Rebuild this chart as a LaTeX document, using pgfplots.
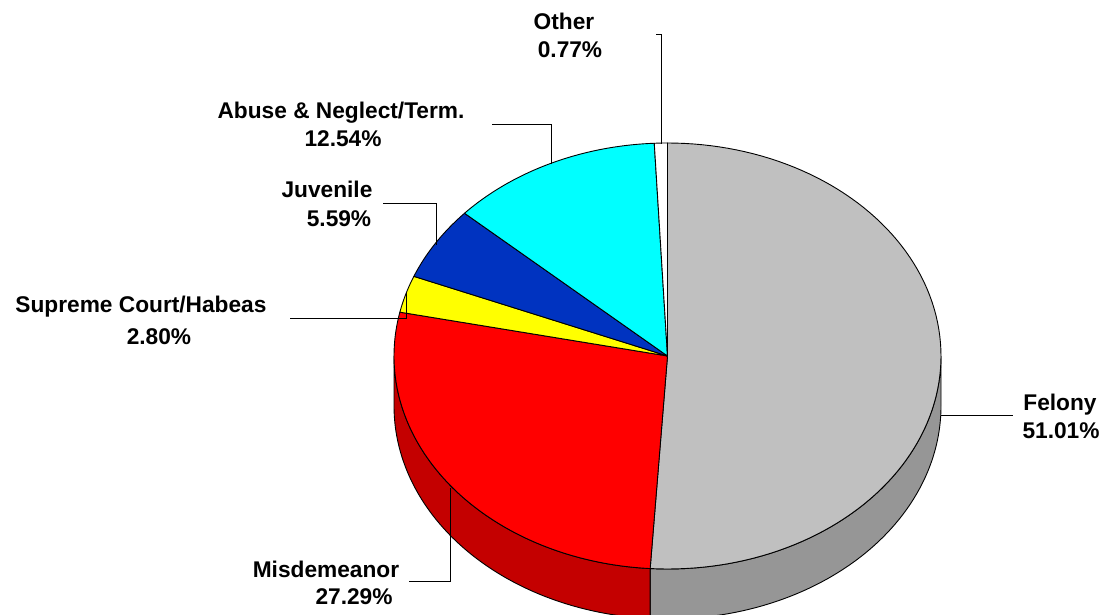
\documentclass[border=0pt]{standalone}
\usepackage{pgfplots}
\pgfplotsset{compat=1.18}
\usepackage{fontspec}
\setmainfont{Liberation Sans}
\definecolor{cGray}{HTML}{C0C0C0}
\definecolor{cGrayS}{HTML}{969696}
\definecolor{cRed}{HTML}{FF0000}
\definecolor{cRedS}{HTML}{C40000}
\definecolor{cYel}{HTML}{FFFF00}
\definecolor{cBlue}{HTML}{0033C0}
\definecolor{cCyan}{HTML}{00FFFF}
% slice(from %, to %, colour): Felony 51.01, Misdemeanor 27.29, Supreme Court 2.80,
% Juvenile 5.59, Abuse 12.54, Other 0.77
\newcommand{\slice}[3]{%
  \addplot[fill=#3,draw=black,line width=0.9pt,line join=round,variable=\t,
    samples at={-1,0,1,...,101}]
    ({(\t<0||\t>100)?667.5:667.5+273.5*sin(3.6*(#1+(#2-#1)*\t/100))},
     {(\t<0||\t>100)?356:356-213*cos(3.6*(#1+(#2-#1)*\t/100))});
}
% band(from deg, to deg, colour)
\newcommand{\band}[3]{%
  \addplot[fill=#3,draw=black,line width=0.9pt,line join=round,variable=\t,
    samples at={0,1,...,202}]
    ({667.5+273.5*sin(\t<=100?#1+(#2-#1)*\t/100:(\t<=201?#2-(#2-#1)*(\t-101)/100:#1))},
     {356+(\t>100&&\t<=201?50:0)-213*cos(\t<=100?#1+(#2-#1)*\t/100:(\t<=201?#2-(#2-#1)*(\t-101)/100:#1))});
}
\begin{document}
\begin{tikzpicture}[x=1pt,y=1pt]
\useasboundingbox (0,0) rectangle (1104,615);
\begin{axis}[at={(0,0)},anchor=south west,scale only axis,width=1104pt,height=615pt,
  xmin=0,xmax=1104,ymin=0,ymax=615,y dir=reverse,hide axis,clip=true]
\band{90}{183.636}{cGrayS}
\band{183.636}{270}{cRedS}
\slice{0}{51.01}{cGray}
\slice{51.01}{78.30}{cRed}
\slice{78.30}{81.10}{cYel}
\slice{81.10}{86.69}{cBlue}
\slice{86.69}{99.23}{cCyan}
\slice{99.23}{100}{white}
\addplot[black,line width=0.9pt] coordinates {(941,415) (1013,415)};
\addplot[black,line width=0.9pt] coordinates {(383,203) (436,203) (436,245)};
\addplot[black,line width=0.9pt] coordinates {(492,124) (551,124) (551,164)};
\addplot[black,line width=0.9pt] coordinates {(656,34) (661,34) (661,144)};
\addplot[black,line width=0.9pt] coordinates {(409,581) (450,581) (450,488)};
\addplot[black,line width=0.9pt] coordinates {(290,318) (406,318) (406,293)};
\begin{scope}[every node/.style={font=\fontsize{22.7}{26}\selectfont\bfseries,anchor=base,inner sep=0pt}]
\node at (axis cs:564,30) {Other};
\node at (axis cs:570,58) {0.77\%};
\node at (axis cs:341,119) {Abuse \& Neglect/Term.};
\node at (axis cs:343,147) {12.54\%};
\node at (axis cs:327,198) {Juvenile};
\node at (axis cs:339,226) {5.59\%};
\node at (axis cs:141,312) {Supreme Court/Habeas};
\node at (axis cs:159,344) {2.80\%};
\node at (axis cs:1060,410) {Felony};
\node at (axis cs:1061,438) {51.01\%};
\node at (axis cs:326,577) {Misdemeanor};
\node at (axis cs:354,604) {27.29\%};
\end{scope}
\end{axis}
\end{tikzpicture}
\end{document}
